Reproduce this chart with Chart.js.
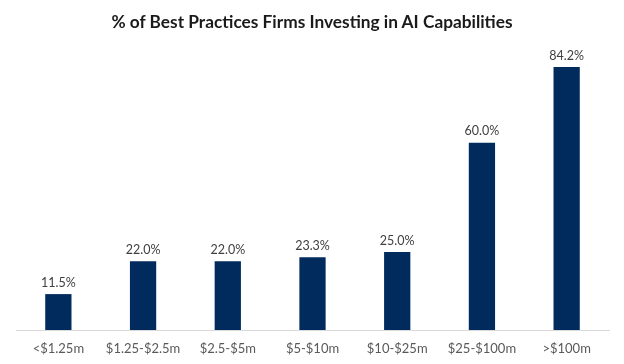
<!DOCTYPE html>
<html>
<head>
<meta charset="utf-8">
<script src="https://cdn.jsdelivr.net/npm/chart.js@4"></script>
<style>
  html, body { margin: 0; padding: 0; background: #fff; }
  #wrap { position: relative; width: 624px; height: 364px; }
  #title {
    position: absolute; left: 0; top: 11px; width: 624px;
    text-align: center; font-family: Lato, sans-serif; font-weight: bold;
    font-size: 17.3px; color: #1a1a1a;
  }
</style>
</head>
<body>
<div id="wrap">
  <div id="title">% of Best Practices Firms Investing in AI Capabilities</div>
  <canvas id="chart" width="624" height="364"></canvas>
</div>
<script>
const categories = ["<$1.25m", "$1.25-$2.5m", "$2.5-$5m", "$5-$10m", "$10-$25m", "$25-$100m", ">$100m"];
const values = [11.5, 22.0, 22.0, 23.3, 25.0, 60.0, 84.2];

// draws the % labels on top of each bar
const barLabels = {
  id: "barLabels",
  afterDatasetsDraw(chart) {
    const ctx = chart.ctx;
    const meta = chart.getDatasetMeta(0);
    ctx.save();
    ctx.font = "12.5px Lato, sans-serif";
    ctx.fillStyle = "#404040";
    ctx.textAlign = "center";
    ctx.textBaseline = "bottom";
    meta.data.forEach((bar, i) => {
      ctx.fillText(values[i].toFixed(1) + "%", bar.x, bar.y - 5);
    });
    ctx.restore();
  }
};

const ctx = document.getElementById("chart").getContext("2d");
new Chart(ctx, {
  type: "bar",
  data: {
    labels: categories,
    datasets: [{
      data: values,
      backgroundColor: "#012b5c",
      categoryPercentage: 1,
      barPercentage: 0.31
    }]
  },
  options: {
    responsive: false,
    animation: false,
    layout: { padding: { top: 49, left: 16, right: 15, bottom: 0 } },
    plugins: {
      legend: { display: false },
      tooltip: { enabled: false }
    },
    scales: {
      x: {
        afterFit(scale) { scale.height = 34; },
        grid: { display: false, drawTicks: false },
        border: { color: "#d9d9d9", width: 1 },
        ticks: {
          color: "#595959",
          font: { family: "Lato", size: 13 },
          padding: 11,
          maxRotation: 0
        }
      },
      y: {
        display: false,
        min: 0,
        max: 90
      }
    }
  },
  plugins: [barLabels]
});
</script>
</body>
</html>
